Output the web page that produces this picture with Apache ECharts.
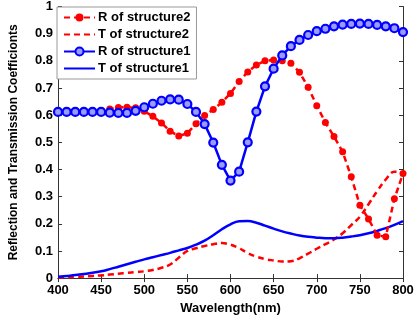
<!DOCTYPE html>
<html><head><meta charset="utf-8">
<script src="https://cdn.jsdelivr.net/npm/echarts@6/dist/echarts.min.js"></script>
<style>html,body{margin:0;padding:0;background:#fff}#c{width:417px;height:320px}</style>
</head><body><div id="c"></div>
<script>
var wavelengths = [400,410,420,430,440,450,460,470,480,490,500,510,520,530,540,550,560,570,580,590,600,610,620,630,640,650,660,670,680,690,700,710,720,730,740,750,760,770,780,790,800];
var R2 = [0.612,0.612,0.612,0.612,0.613,0.615,0.623,0.628,0.629,0.627,0.614,0.596,0.571,0.541,0.523,0.533,0.568,0.599,0.621,0.647,0.680,0.724,0.759,0.785,0.800,0.803,0.800,0.791,0.758,0.703,0.635,0.573,0.521,0.465,0.373,0.268,0.218,0.158,0.152,0.292,0.385];
var T2 = [0.003,0.003,0.004,0.006,0.008,0.010,0.013,0.016,0.019,0.022,0.025,0.030,0.038,0.050,0.075,0.100,0.110,0.118,0.125,0.129,0.123,0.110,0.092,0.079,0.070,0.065,0.061,0.062,0.073,0.090,0.108,0.125,0.142,0.165,0.195,0.226,0.272,0.320,0.363,0.392,0.388];
var R1 = [0.612,0.612,0.612,0.612,0.612,0.612,0.609,0.608,0.608,0.616,0.629,0.642,0.653,0.658,0.657,0.641,0.612,0.567,0.499,0.417,0.359,0.392,0.500,0.613,0.706,0.771,0.820,0.854,0.877,0.895,0.909,0.918,0.927,0.933,0.936,0.937,0.936,0.932,0.927,0.920,0.906];
var T1 = [0.005,0.008,0.011,0.015,0.020,0.025,0.033,0.042,0.051,0.060,0.069,0.077,0.085,0.093,0.102,0.111,0.123,0.138,0.158,0.180,0.198,0.209,0.210,0.204,0.193,0.182,0.172,0.164,0.157,0.152,0.149,0.147,0.147,0.149,0.153,0.158,0.165,0.174,0.184,0.196,0.210];
var seriesNames = ['R of structure2','T of structure2','R of structure1','T of structure1'];
var xTitle = 'Wavelength(nm)';
var yTitle = 'Reflection and Transmission Coefficionts';

function pairs(v){ return wavelengths.map(function(w,i){ return [w, v[i]]; }); }
var font = 'Liberation Sans, Arial, sans-serif';
var chart = echarts.init(document.getElementById('c'), null, {renderer:'canvas'});
var axisLine = {show:true, lineStyle:{color:'#333', width:1}};
var ticks = {show:true, inside:true, length:4, lineStyle:{color:'#333'}};
chart.setOption({
  animation:false,
  backgroundColor:'#fff',
  grid:{left:56, right:14, top:6, bottom:40, containLabel:false},
  legend:{
    data:[
      {name:seriesNames[0]},
      {name:seriesNames[1], itemStyle:{opacity:0}},
      {name:seriesNames[2]},
      {name:seriesNames[3], itemStyle:{opacity:0}}
    ],
    orient:'vertical', left:57, top:7,
    itemWidth:31, itemHeight:10, itemGap:4,
    borderColor:'#999', borderWidth:1, backgroundColor:'#fff',
    padding:[4,6,4,6],
    textStyle:{fontFamily:font, fontWeight:'bold', fontSize:13, color:'#000', padding:[0,0,0,-2]}
  },
  xAxis:[{
    type:'value', min:400, max:800, interval:50,
    name:xTitle, nameLocation:'middle', nameGap:22,
    nameTextStyle:{fontFamily:font, fontWeight:'bold', fontSize:13, color:'#000'},
    axisLine:axisLine, axisTick:ticks, splitLine:{show:false},
    axisLabel:{fontFamily:font, fontWeight:'bold', fontSize:13, color:'#000', margin:6}
  },{
    type:'value', min:400, max:800, interval:50, position:'top',
    axisLine:axisLine, axisTick:ticks, splitLine:{show:false}, axisLabel:{show:false}
  }],
  yAxis:[{
    type:'value', min:0, max:1, interval:0.1,
    name:yTitle, nameLocation:'middle', nameGap:38,
    nameTextStyle:{fontFamily:font, fontWeight:'bold', fontSize:12, color:'#000'},
    axisLine:axisLine, axisTick:ticks, splitLine:{show:false},
    axisLabel:{fontFamily:font, fontWeight:'bold', fontSize:13, color:'#000', margin:5}
  },{
    type:'value', min:0, max:1, interval:0.1, position:'right',
    axisLine:axisLine, axisTick:ticks, splitLine:{show:false}, axisLabel:{show:false}
  }],
  series:[
    {name:seriesNames[0], type:'line', data:pairs(R2), symbol:'circle', symbolSize:7,
     itemStyle:{color:'#ff0000'}, lineStyle:{color:'#ff0000', width:2.5, type:[6,4]}, z:3},
    {name:seriesNames[1], type:'line', data:pairs(T2), symbol:'none', smooth:0.4,
     itemStyle:{color:'#ff0000'}, lineStyle:{color:'#ff0000', width:2.5, type:[6,4]}, z:2},
    {name:seriesNames[2], type:'line', data:pairs(R1), symbol:'circle', symbolSize:8,
     itemStyle:{color:'#9a9aff', borderColor:'#0000ff', borderWidth:2.2}, lineStyle:{color:'#0000ff', width:2.5}, z:4},
    {name:seriesNames[3], type:'line', data:pairs(T1), symbol:'none', smooth:0.4,
     itemStyle:{color:'#0000ff'}, lineStyle:{color:'#0000ff', width:2.5}, z:2}
  ]
});
</script></body></html>
